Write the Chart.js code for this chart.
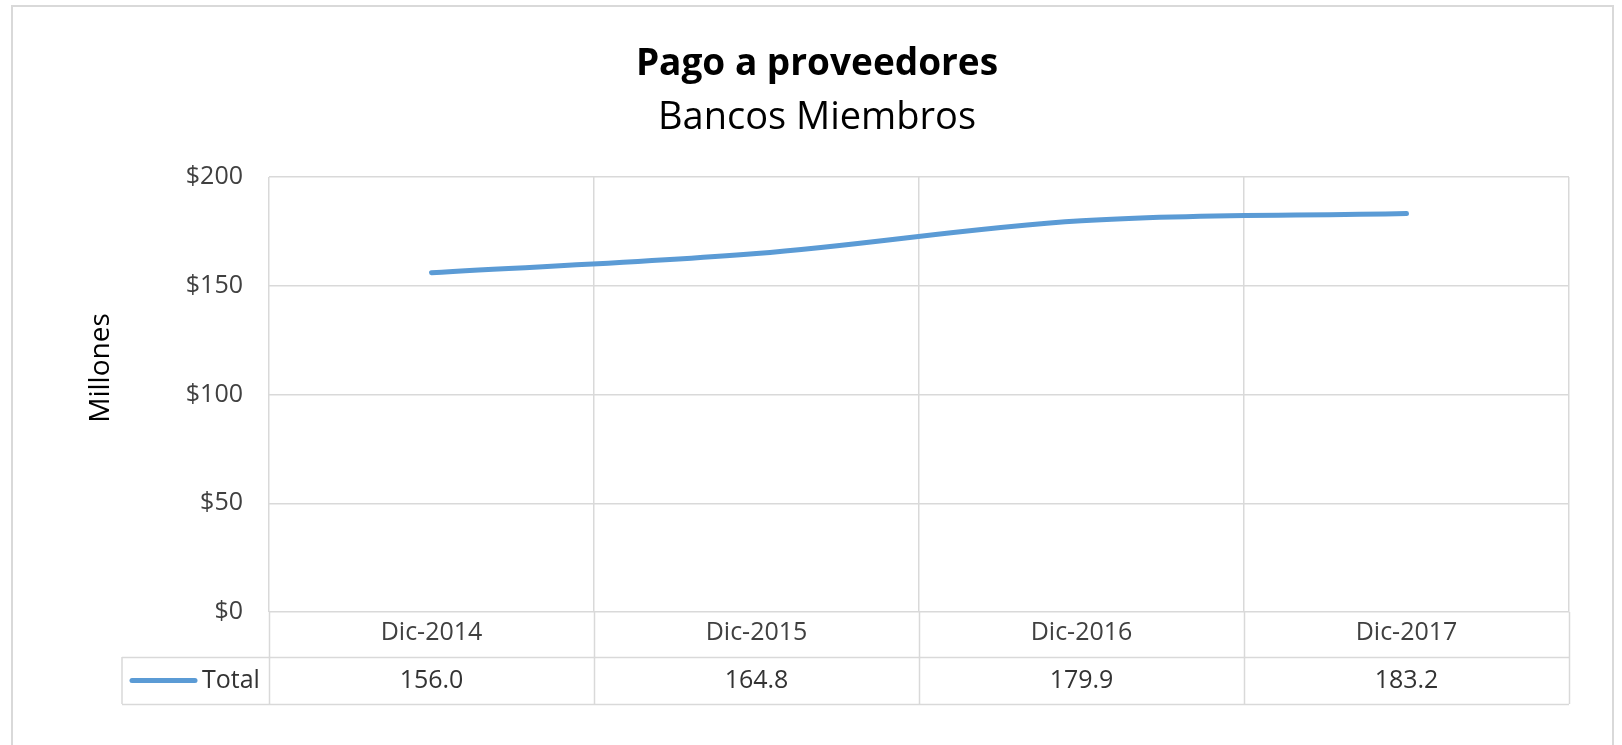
<!DOCTYPE html>
<html>
<head>
<meta charset="utf-8">
<title>Pago a proveedores</title>
<script src="https://cdn.jsdelivr.net/npm/chart.js@4.4.0/dist/chart.umd.min.js"></script>
<style>
  html, body { margin: 0; padding: 0; background: #fff; overflow: hidden; }
  #marco {
    position: absolute; left: 11px; top: 5px; width: 1603px; height: 800px;
    border: 2px solid #d9d9d9; box-sizing: border-box;
  }
  #grafico { position: absolute; left: 0; top: 0; }
</style>
</head>
<body>
<div id="marco"></div>
<canvas id="grafico" width="1622" height="745"></canvas>
<script>
// Datos del gráfico
const periodos = ['Dic-2014', 'Dic-2015', 'Dic-2016', 'Dic-2017'];
const total = [156.0, 164.8, 179.9, 183.2];
const ticksY = [0, 50, 100, 150, 200];

const AZUL = '#5b9bd5';
const GRIS_LINEA = '#d9d9d9';
const GRIS_TEXTO = '#404040';

Chart.defaults.font.family = "'Open Sans', sans-serif";

// Tabla de datos bajo el eje X + título vertical del eje Y
const tablaDatos = {
    id: 'tablaDatos',
    afterDraw(chart) {
        const { ctx, chartArea, scales: { x } } = chart;
        const fila1 = chartArea.bottom + 45;
        const fila2 = fila1 + 47;
        const izq = 122;
        const mitad = (x.getPixelForValue(1) - x.getPixelForValue(0)) / 2;

        ctx.save();
        ctx.strokeStyle = GRIS_LINEA;
        ctx.lineWidth = 1.5;
        ctx.beginPath();
        for (let i = 0; i <= periodos.length; i++) {
            const px = Math.round(x.getPixelForValue(i) - mitad) + 0.5;
            ctx.moveTo(px, chartArea.bottom);
            ctx.lineTo(px, fila2);
        }
        ctx.moveTo(izq, fila1);
        ctx.lineTo(izq, fila2);
        ctx.moveTo(izq, fila1 + 0.5);
        ctx.lineTo(chartArea.right, fila1 + 0.5);
        ctx.moveTo(izq, fila2 + 0.5);
        ctx.lineTo(chartArea.right, fila2 + 0.5);
        ctx.stroke();

        // muestra de la serie
        const yFila = (fila1 + fila2) / 2;
        ctx.strokeStyle = AZUL;
        ctx.lineWidth = 5;
        ctx.lineCap = 'round';
        ctx.beginPath();
        ctx.moveTo(132, yFila);
        ctx.lineTo(195, yFila);
        ctx.stroke();

        ctx.fillStyle = '#333';
        ctx.font = "25px 'Open Sans', sans-serif";
        ctx.textBaseline = 'middle';
        ctx.textAlign = 'left';
        ctx.fillText('Total', 202, yFila);

        ctx.textAlign = 'center';
        total.forEach((v, i) => {
            ctx.fillText(v.toFixed(1), x.getPixelForValue(i), yFila);
        });

        // título del eje Y
        ctx.fillStyle = '#000';
        ctx.font = "28px 'Open Sans', sans-serif";
        ctx.translate(101, 368);
        ctx.rotate(-Math.PI / 2);
        ctx.fillText('Millones', 0, 0);
        ctx.restore();
    }
};

new Chart(document.getElementById('grafico'), {
    type: 'line',
    data: {
        labels: periodos,
        datasets: [{
            label: 'Total',
            data: total,
            borderColor: AZUL,
            borderWidth: 5,
            borderCapStyle: 'round',
            tension: 0.35,
            pointRadius: 0,
            fill: false
        }]
    },
    options: {
        responsive: false,
        animation: false,
        devicePixelRatio: 1,
        layout: { padding: { left: 65, right: 53, top: 0, bottom: 41 } },
        plugins: {
            legend: { display: false },
            tooltip: { enabled: false },
            title: {
                display: true,
                text: 'Pago a proveedores',
                color: '#000',
                font: { size: 37, weight: 'bold', lineHeight: 1.2 },
                padding: { top: 42, bottom: 0 }
            },
            subtitle: {
                display: true,
                text: 'Bancos Miembros',
                color: '#000',
                font: { size: 38, weight: 'normal', lineHeight: 1.2 },
                padding: { top: 8.8, bottom: 36.2 }
            }
        },
        scales: {
            x: {
                offset: true,
                grid: { offset: true, color: GRIS_LINEA, lineWidth: 1.5, drawTicks: false },
                border: { display: false },
                ticks: { color: GRIS_TEXTO, font: { size: 25 }, padding: 6, maxRotation: 0 },
                afterFit(scale) { scale.height = 92; }
            },
            y: {
                min: ticksY[0],
                max: ticksY[ticksY.length - 1],
                grid: { color: GRIS_LINEA, lineWidth: 1.5, drawTicks: false },
                border: { display: false },
                ticks: {
                    stepSize: ticksY[1] - ticksY[0],
                    color: GRIS_TEXTO,
                    font: { size: 25 },
                    padding: 26,
                    callback: v => '$' + v
                },
                afterFit(scale) { scale.width = 204; }
            }
        }
    },
    plugins: [tablaDatos]
});
</script>
</body>
</html>
